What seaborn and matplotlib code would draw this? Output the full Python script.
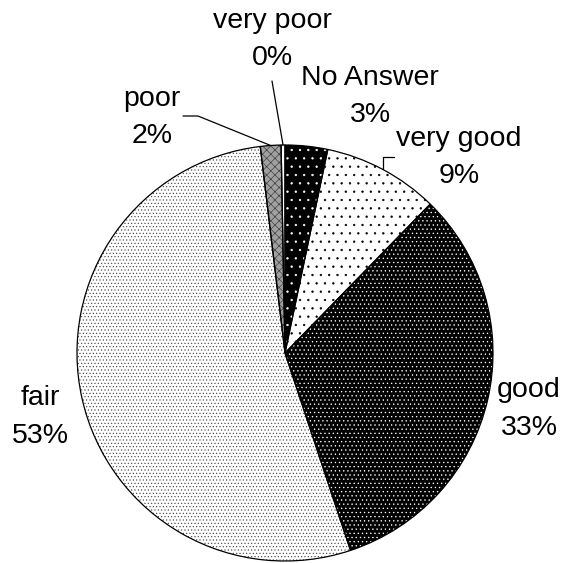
import numpy as np
import matplotlib
matplotlib.use("Agg")
import matplotlib.pyplot as plt
import seaborn as sns

# Survey answers, clockwise from 12 o'clock (percent)
categories = ["No Answer", "very good", "good", "fair", "poor", "very poor"]
shares = [3.3, 9.0, 32.6, 53.2, 1.6, 0.3]

# Monochrome fills: base colour, dot/hatch pattern and pattern colour
face_colors = ["black", "white", "black", "white", "#a0a0a0", "white"]
hatches = ["..", "..", "....", ".....", "xxxx", ""]
hatch_colors = ["white", "black", "white", "#4a4a4a", "#3a3a3a", "black"]

sns.set_theme(style="white")
plt.rcParams["font.family"] = ["Liberation Sans", "DejaVu Sans"]
plt.rcParams["hatch.linewidth"] = 0.45

W, H = 564, 563
CX, CY, R = 285, 353, 208          # pie centre and radius in pixels
fig = plt.figure(figsize=(W / 100, H / 100), dpi=100)
fig.patch.set_facecolor("white")
ax = fig.add_axes([(CX - R) / W, (H - (CY + R)) / H, 2 * R / W, 2 * R / H])


def to_data(px, py):
    """Pixel position (from the top-left corner) to pie data coordinates."""
    return (px - CX) / R, (CY - py) / R


# patterned fills
wedges, _ = ax.pie(shares, startangle=90, counterclock=False,
                   colors=face_colors, wedgeprops=dict(linewidth=0))
for w, h, hc in zip(wedges, hatches, hatch_colors):
    w.set_hatch(h)
    w.set_edgecolor(hc)
    w.set_linewidth(0)

# black outlines on top
ax.pie(shares, startangle=90, counterclock=False,
       wedgeprops=dict(fill=False, edgecolor="black", linewidth=0.9))
ax.set_xlim(-1, 1)
ax.set_ylim(-1, 1)
ax.set_aspect("auto")
ax.axis("off")

# label anchors: centre x, baseline of name, baseline of percentage (pixels)
label_pos = {
    "No Answer": (370, 85, 122),
    "very good": (459, 146, 183),
    "good": (529, 397, 435),
    "fair": (40, 405, 443),
    "poor": (152, 106, 143),
    "very poor": (272, 28, 65),
}
fs = 20.5
for name, value in zip(categories, shares):
    x, b1, b2 = label_pos[name]
    tx, ty1 = to_data(x, b1)
    _, ty2 = to_data(x, b2)
    ax.text(tx, ty1, name, ha="center", va="baseline", fontsize=fs,
            color="black", clip_on=False)
    ax.text(tx, ty2, f"{round(value)}%", ha="center", va="baseline",
            fontsize=fs, color="black", clip_on=False)


def edge_point(wedge):
    mid = np.deg2rad((wedge.theta1 + wedge.theta2) / 2)
    return np.cos(mid), np.sin(mid)


# leader lines from the small-slice labels to their wedges
leaders = {
    "very poor": [(272, 81)],
    "poor": [(183, 116), (198, 116)],
}
for name, pts in leaders.items():
    w = wedges[categories.index(name)]
    ex, ey = edge_point(w)
    xs = [to_data(*p)[0] for p in pts] + [ex]
    ys = [to_data(*p)[1] for p in pts] + [ey]
    ax.plot(xs, ys, color="black", linewidth=0.9, clip_on=False)

w = wedges[categories.index("very good")]
ex, ey = edge_point(w)
_, elbow_y = to_data(0, 157)
xs = [to_data(394, 0)[0], ex, ex]
ys = [elbow_y, elbow_y, ey]
ax.plot(xs, ys, color="black", linewidth=0.9, clip_on=False)

fig.savefig("out.png", dpi=100, facecolor="white")
